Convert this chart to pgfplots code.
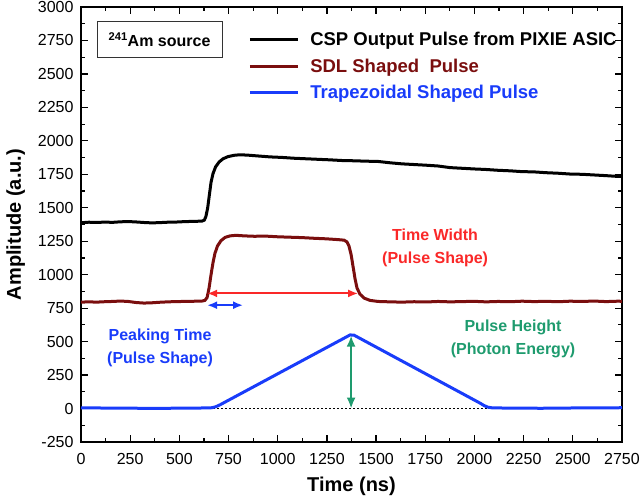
\documentclass[border=0pt]{standalone}
\usepackage{fontspec}
\setmainfont{Liberation Sans}
\usepackage{pgfplots}
\pgfplotsset{compat=1.18}
\usetikzlibrary{arrows.meta}

\definecolor{maroonc}{RGB}{122,14,14}
\definecolor{bluec}{RGB}{25,60,250}
\definecolor{redc}{RGB}{250,40,40}
\definecolor{greenc}{RGB}{30,155,110}

\begin{document}
\begin{tikzpicture}
\begin{axis}[
    scale only axis,
    width=541pt, height=435pt,
    xmin=0, xmax=2750, ymin=-250, ymax=3000,
    xtick distance=250, ytick distance=250,
    minor x tick num=1, minor y tick num=1,
    tick align=inside,
    major tick length=7pt, minor tick length=4pt,
    every tick/.style={black, line width=1.2pt},
    axis line style={line width=1.8pt},
    scaled ticks=false,
    /pgf/number format/1000 sep={},
    /pgf/number format/assume math mode=true,
    tick label style={font=\fontsize{16}{19}\selectfont},
    xticklabel style={yshift=-8pt},
    yticklabel style={xshift=-4pt},
    label style={font=\fontsize{20}{24}\selectfont\bfseries},
    xlabel={Time (ns)},
    ylabel={Amplitude (a.u.)},
    xlabel style={yshift=-5pt},
    ylabel style={yshift=6pt},
    legend cell align=left,
    legend image code/.code={\draw[#1, line width=3pt] (0pt,0pt) -- (48pt,0pt);},
    legend style={at={(axis cs:834,2843)}, anchor=north west, draw=none, fill=none,
        font=\fontsize{18.5}{21}\selectfont\bfseries, row sep=7.5pt, column sep=9pt},
]
% zero reference
\addplot[black, line width=0.6pt, dash pattern=on 2pt off 2pt, forget plot] coordinates {(0,0)(2750,0)};

% CSP output pulse
\addplot[black, line width=3pt] coordinates {
(0,1388)(40,1392)(80,1390)(120,1393)(160,1391)(200,1395)(240,1397)(280,1394)(320,1390)(360,1387)
(400,1389)(440,1392)(480,1393)(520,1396)(560,1398)(615,1400)(627,1408)(635,1435)(644,1500)(652,1590)
(661,1690)(671,1755)(684,1805)(702,1842)(722,1866)(747,1882)(778,1892)(808,1896)(849,1893)(900,1887)
(961,1880)(1022,1876)(1083,1870)(1144,1866)(1205,1862)(1266,1858)(1327,1853)(1388,1851)(1449,1848)
(1510,1846)(1571,1836)(1632,1828)(1693,1823)(1754,1818)(1815,1812)(1876,1800)(1937,1795)(1998,1790)
(2059,1786)(2120,1780)(2181,1776)(2242,1770)(2303,1768)(2364,1762)(2425,1758)(2486,1752)(2547,1750)
(2608,1745)(2669,1740)(2730,1734)(2750,1736)};
\addlegendentry{CSP Output Pulse from PIXIE ASIC}

% SDL shaped pulse
\addplot[maroonc, line width=3pt] coordinates {
(0,795)(40,797)(80,795)(120,798)(160,800)(200,803)(240,800)(280,792)(320,788)(360,790)(400,794)
(440,797)(480,799)(520,800)(560,801)(615,803)(630,808)(641,830)(651,900)(661,1000)(671,1090)
(681,1160)(694,1215)(712,1255)(732,1278)(757,1290)(788,1294)(829,1290)(880,1287)(941,1288)(1002,1283)
(1063,1280)(1124,1277)(1185,1272)(1246,1268)(1307,1262)(1337,1258)(1352,1245)(1362,1215)(1373,1150)
(1383,1060)(1393,970)(1403,900)(1418,855)(1439,825)(1469,808)(1510,800)(1571,797)(1632,795)(1693,798)
(1754,796)(1815,800)(1876,797)(1937,799)(1998,801)(2059,797)(2120,800)(2181,798)(2242,802)(2303,799)
(2364,801)(2425,798)(2486,802)(2547,800)(2608,803)(2669,799)(2730,802)(2750,801)};
\addlegendentry{\textcolor{maroonc}{SDL Shaped\ \ Pulse}}

% Trapezoidal shaped pulse
\addplot[bluec, line width=3pt] coordinates {
(0,5)(100,4)(200,3)(300,2)(400,1)(500,3)(610,4)(666,6)(686,14)(707,28)(727,44)(1368,550)(1388,548)
(2029,40)(2049,22)(2069,10)(2090,5)(2190,3)(2340,2)(2490,4)(2640,5)(2750,6)};
\addlegendentry{\textcolor{bluec}{Trapezoidal Shaped Pulse}}

% annotation arrows
\addplot[redc, line width=2pt, {Latex[length=10pt,width=8pt]}-{Latex[length=10pt,width=8pt]}, forget plot] coordinates {(641,860)(1409,860)};
\addplot[bluec, line width=2pt, {Latex[length=10pt,width=8pt]}-{Latex[length=10pt,width=8pt]}, forget plot] coordinates {(641,772)(824,772)};
\addplot[greenc, line width=2pt, {Latex[length=11pt,width=9pt]}-{Latex[length=11pt,width=9pt]}, forget plot] coordinates {(1373,0)(1373,545)};

% annotation texts
\node[text=redc, align=center, font=\fontsize{16}{23}\selectfont\bfseries] at (axis cs:1800,1204) {Time Width\\(Pulse Shape)};
\node[text=bluec, align=center, font=\fontsize{16}{23}\selectfont\bfseries] at (axis cs:402,457) {Peaking Time\\(Pulse Shape)};
\node[text=greenc, align=center, font=\fontsize{16}{23}\selectfont\bfseries] at (axis cs:2196,521) {Pulse Height\\(Photon Energy)};

\node[draw=black!80, line width=0.8pt, minimum width=125pt, minimum height=36pt,
      font=\fontsize{16}{19}\selectfont\bfseries] at (axis cs:399,2758) {$^{\mathbf{241}}$Am source};

\coordinate (sw) at (rel axis cs:0,0);
\end{axis}
\pgfresetboundingbox
\path (sw) ++(-81pt,-58pt) rectangle ++(640pt,500pt);
\end{tikzpicture}
\end{document}
